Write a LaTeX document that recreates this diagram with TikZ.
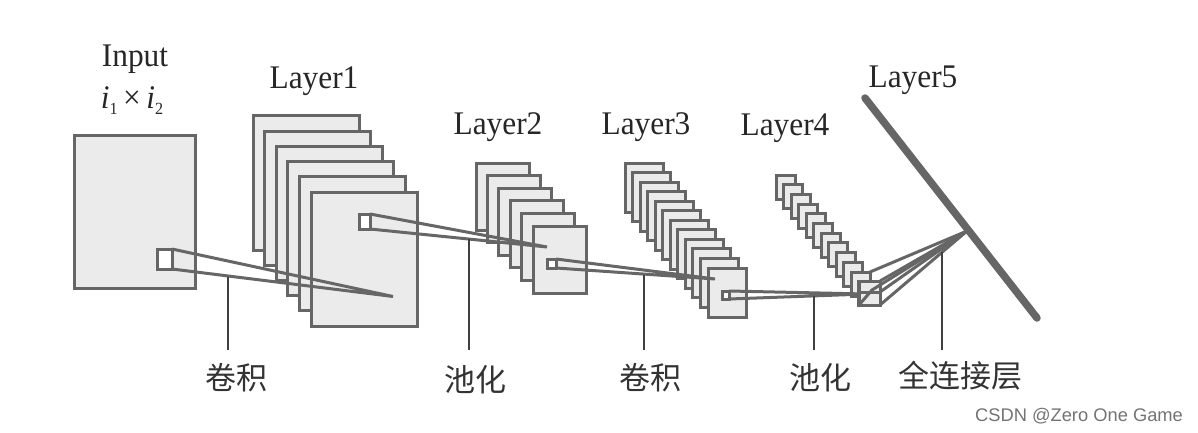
\documentclass[tikz,border=0pt]{standalone}
\usepackage{fontspec}
\setmainfont[FakeStretch=0.95]{Liberation Serif}
\newfontfamily\cjkf{Noto Sans CJK SC}
\newfontfamily\wmf{Liberation Sans}
\definecolor{edgegray}{HTML}{666666}
\definecolor{mapfill}{HTML}{EBEBEB}
\tikzset{
  mapbox/.style={draw=edgegray,fill=mapfill,line width=3pt,anchor=north west,inner sep=0pt,outer sep=0pt,rectangle,line join=miter},
  patch/.style={draw=edgegray,fill=white,line width=3pt,anchor=north west,inner sep=0pt,outer sep=0pt,rectangle},
  wedge/.style={draw=edgegray,line width=3pt,line join=miter},
  leader/.style={draw=black!75,line width=1.8pt},
  layertxt/.style={font=\fontsize{33}{35}\selectfont,text=black!85,inner sep=0pt},
  optxt/.style={font=\cjkf\fontsize{31}{33}\selectfont,text=black!80,inner sep=0pt,anchor=center},
}
\newcommand{\subidx}[1]{\raisebox{-6pt}{\fontsize{17}{18}\selectfont #1}}
\begin{document}
\begin{tikzpicture}[x=1pt,y=-1pt]
\useasboundingbox (0,0) rectangle (1198,433);
% labels
\node[layertxt] (tinput) at (135,59) {Input};
\node[layertxt] (tsize) at (132,101) {\textit{i}\subidx{1}\,×\,\textit{i}\subidx{2}};
\node[layertxt] (tl1) at (314,81) {Layer1};
\node[layertxt] (tl2) at (498,127) {Layer2};
\node[layertxt] (tl3) at (646,127) {Layer3};
\node[layertxt] (tl4) at (785,128) {Layer4};
\node[layertxt] (tl5) at (913,80) {Layer5};
\node[optxt] (op1) at (236,378) {卷积};
\node[optxt] (op2) at (475,380) {池化};
\node[optxt] (op3) at (650,378) {卷积};
\node[optxt] (op4) at (820,378) {池化};
\node[optxt] (op5) at (960,376) {全连接层};
\node[font=\wmf\fontsize{18.3}{20}\selectfont,text=black!55,inner sep=0pt] (wm) at (1079,416) {CSDN @Zero One Game};
% input
\node[mapbox,minimum width=121pt,minimum height=153pt] (inp) at (74,135) {};
% layer 1
\foreach \i in {0,...,5}
  \node[mapbox,minimum width=106pt,minimum height=134pt] (la\i) at ({253+11.6*\i},{116+15.2*\i}) {};
% layer 2
\foreach \i in {0,...,5}
  \node[mapbox,minimum width=53pt,minimum height=67pt] (lb\i) at ({476+11.4*\i},{163+12.6*\i}) {};
% layer 3
\foreach \i in {0,...,11}
  \node[mapbox,minimum width=38pt,minimum height=49pt] (lc\i) at ({625+7.55*\i},{163+9.55*\i}) {};
% layer 4
\foreach \i in {0,...,11}
  \node[mapbox,minimum width=19pt,minimum height=24pt] (ld\i) at ({776+7.5*\i},{175+9.7*\i}) {};
% layer 5
\coordinate (e1) at (865,98);
\coordinate (e2) at (1037,318);
\draw[draw=edgegray,line width=7.5pt,line cap=round] (e1) -- (e2);
% wedge tips
\coordinate (t1) at (393,296.5);
\coordinate (t2) at (547,247);
\coordinate (t3) at (715,279);
\coordinate (t4) at (866,294);
\coordinate (t5) at (967,231);
% patches and wedges
\node[patch,minimum width=15pt,minimum height=20pt] (p1) at (157,249) {};
\draw[wedge] (p1.north east) -- (t1) -- (p1.south east);
\node[patch,minimum width=11pt,minimum height=15pt] (p2) at (359,214) {};
\draw[wedge] (p2.north east) -- (t2) -- (p2.south east);
\node[patch,minimum width=9pt,minimum height=9pt] (p3) at (547,259) {};
\draw[wedge] (p3.north east) -- (t3) -- (p3.south east);
\node[patch,minimum width=7pt,minimum height=8pt] (p4) at (722,291) {};
\draw[wedge] (p4.north east) -- (t4) -- (p4.south east);
% last patch and fan
\node[mapbox,minimum width=21pt,minimum height=24pt] (p5) at (859,281) {};
\coordinate (f1) at (870,272);
\coordinate (f2) at (880,292);
\coordinate (f3) at (872,290);
\draw[wedge] (f1) -- (t5);
\draw[wedge] (p5.north east) -- (t5);
\draw[wedge] (f2) -- (t5);
\draw[wedge] (p5.south east) -- (t5);
\draw[wedge] (p5.south west) -- (f3) -- (t5);
\draw[wedge] (p5.west |- f2) -- (f2);
% leaders
\coordinate (c1) at (228,277);
\coordinate (c2) at (469,239);
\coordinate (c3) at (644,275);
\coordinate (c4) at (814,296);
\coordinate (c5) at (942,252);
\foreach \k in {1,...,5}
  \draw[leader] (c\k) -- (c\k |- 0,350);
\end{tikzpicture}
\end{document}
